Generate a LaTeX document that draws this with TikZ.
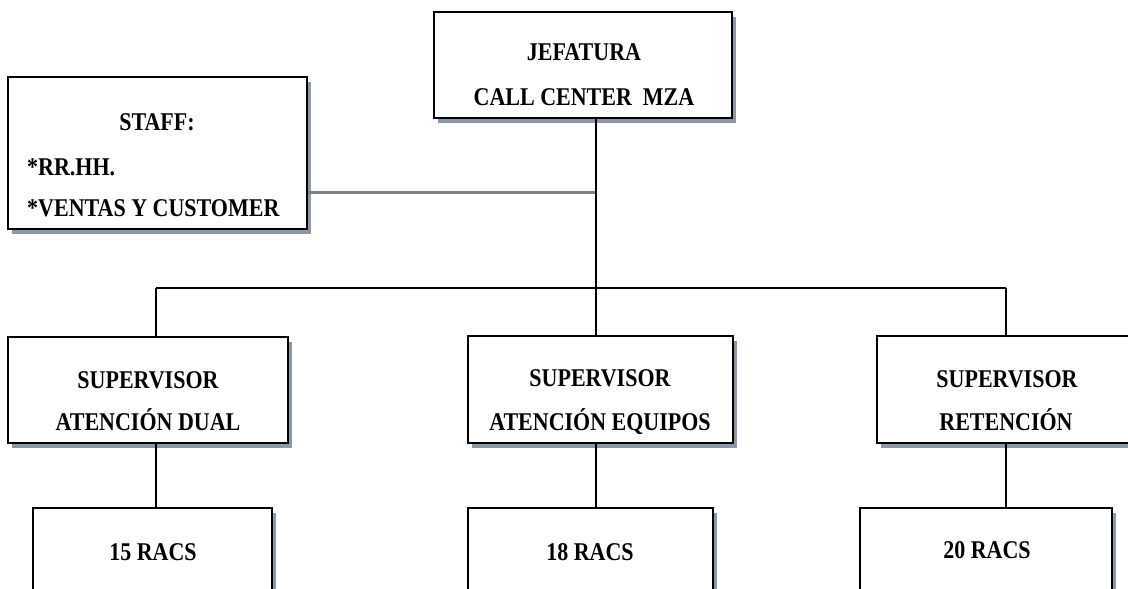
\documentclass[tikz,border=0pt]{standalone}
\usepackage{fontspec}
\setmainfont{Liberation Serif}
\usetikzlibrary{shadows}
\definecolor{shadowc}{RGB}{140,152,168}
\definecolor{stafflink}{RGB}{128,128,128}
% slightly tall bold capitals used for every label
\newcommand{\tallcaps}[1]{\scalebox{1}[1.16]{#1}}
\begin{document}
\begin{tikzpicture}[x=1pt,y=-1pt,
  orgbox/.style={draw=black, line width=2.8pt, fill=white, rectangle,
    inner sep=0pt,
    drop shadow={shadow xshift=4pt, shadow yshift=-5pt, fill=shadowc, opacity=1}},
  lbl/.style={font=\fontsize{22}{26}\selectfont\bfseries, inner sep=0pt, anchor=base},
  lblL/.style={lbl, anchor=base west},
  link/.style={draw=black, line width=1.5pt},
  stafflinkline/.style={draw=stafflink, line width=3pt}]
  \useasboundingbox (0,0) rectangle (1128,589);
  \fill[white] (0,0) rectangle (1128,589);
  \clip (0,0) rectangle (1128,589);

  % boxes
  \node[orgbox, minimum width=298pt, minimum height=106pt] (jef) at (583,65) {};
  \node[orgbox, minimum width=299pt, minimum height=152pt] (staff) at (157.5,153) {};
  \node[orgbox, minimum width=280pt, minimum height=106pt] (sup1) at (148,390) {};
  \node[orgbox, minimum width=265pt, minimum height=107pt] (sup2) at (600.5,389.5) {};
  \node[orgbox, minimum width=260pt, minimum height=107pt] (sup3) at (1007,389.5) {};
  \node[orgbox, minimum width=239pt, minimum height=106pt] (racs1) at (152.5,561) {};
  \node[orgbox, minimum width=245pt, minimum height=106pt] (racs2) at (590.5,561) {};
  \node[orgbox, minimum width=252pt, minimum height=106pt] (racs3) at (986,561) {};

  % labels
  \node[lbl] (jefA) at (584,60) {\tallcaps{JEFATURA}};
  \node[lbl] (jefB) at (584,105) {\tallcaps{CALL CENTER\ \ MZA}};
  \node[lbl] (staffA) at (157,130) {\tallcaps{STAFF:}};
  \node[lblL] (staffB) at (27,175) {\tallcaps{*RR.HH.}};
  \node[lblL] (staffC) at (27,216) {\tallcaps{*VENTAS Y CUSTOMER}};
  \node[lbl] (sup1A) at (148,388) {\tallcaps{SUPERVISOR}};
  \node[lbl] (sup1B) at (148,430) {\tallcaps{ATENCIÓN DUAL}};
  \node[lbl] (sup2A) at (600,386) {\tallcaps{SUPERVISOR}};
  \node[lbl] (sup2B) at (600,430) {\tallcaps{ATENCIÓN EQUIPOS}};
  \node[lbl] (sup3A) at (1007,387) {\tallcaps{SUPERVISOR}};
  \node[lbl] (sup3B) at (1006,430) {\tallcaps{RETENCIÓN}};
  \node[lbl] (racs1A) at (153,560) {\tallcaps{15 RACS}};
  \node[lbl] (racs2A) at (590,560) {\tallcaps{18 RACS}};
  \node[lbl] (racs3A) at (987,558) {\tallcaps{20 RACS}};

  % junction points
  \coordinate (hub) at (596,192);
  \coordinate (bar) at (596,288);
  \coordinate (b1) at (156,288);
  \coordinate (b3) at (1006,288);

  % connectors
  \draw[stafflinkline] (staff.east |- hub) -- (hub);
  \draw[link] (jef.south -| hub) -- (bar) -- (bar |- sup2.north);
  \draw[link] (b1) -- (b3);
  \draw[link] (b1) -- (b1 |- sup1.north);
  \draw[link] (b3) -- (b3 |- sup3.north);
  \draw[link] (b1 |- sup1.south) -- (b1 |- racs1.north);
  \draw[link] (bar |- sup2.south) -- (bar |- racs2.north);
  \draw[link] (b3 |- sup3.south) -- (b3 |- racs3.north);
\end{tikzpicture}
\end{document}
